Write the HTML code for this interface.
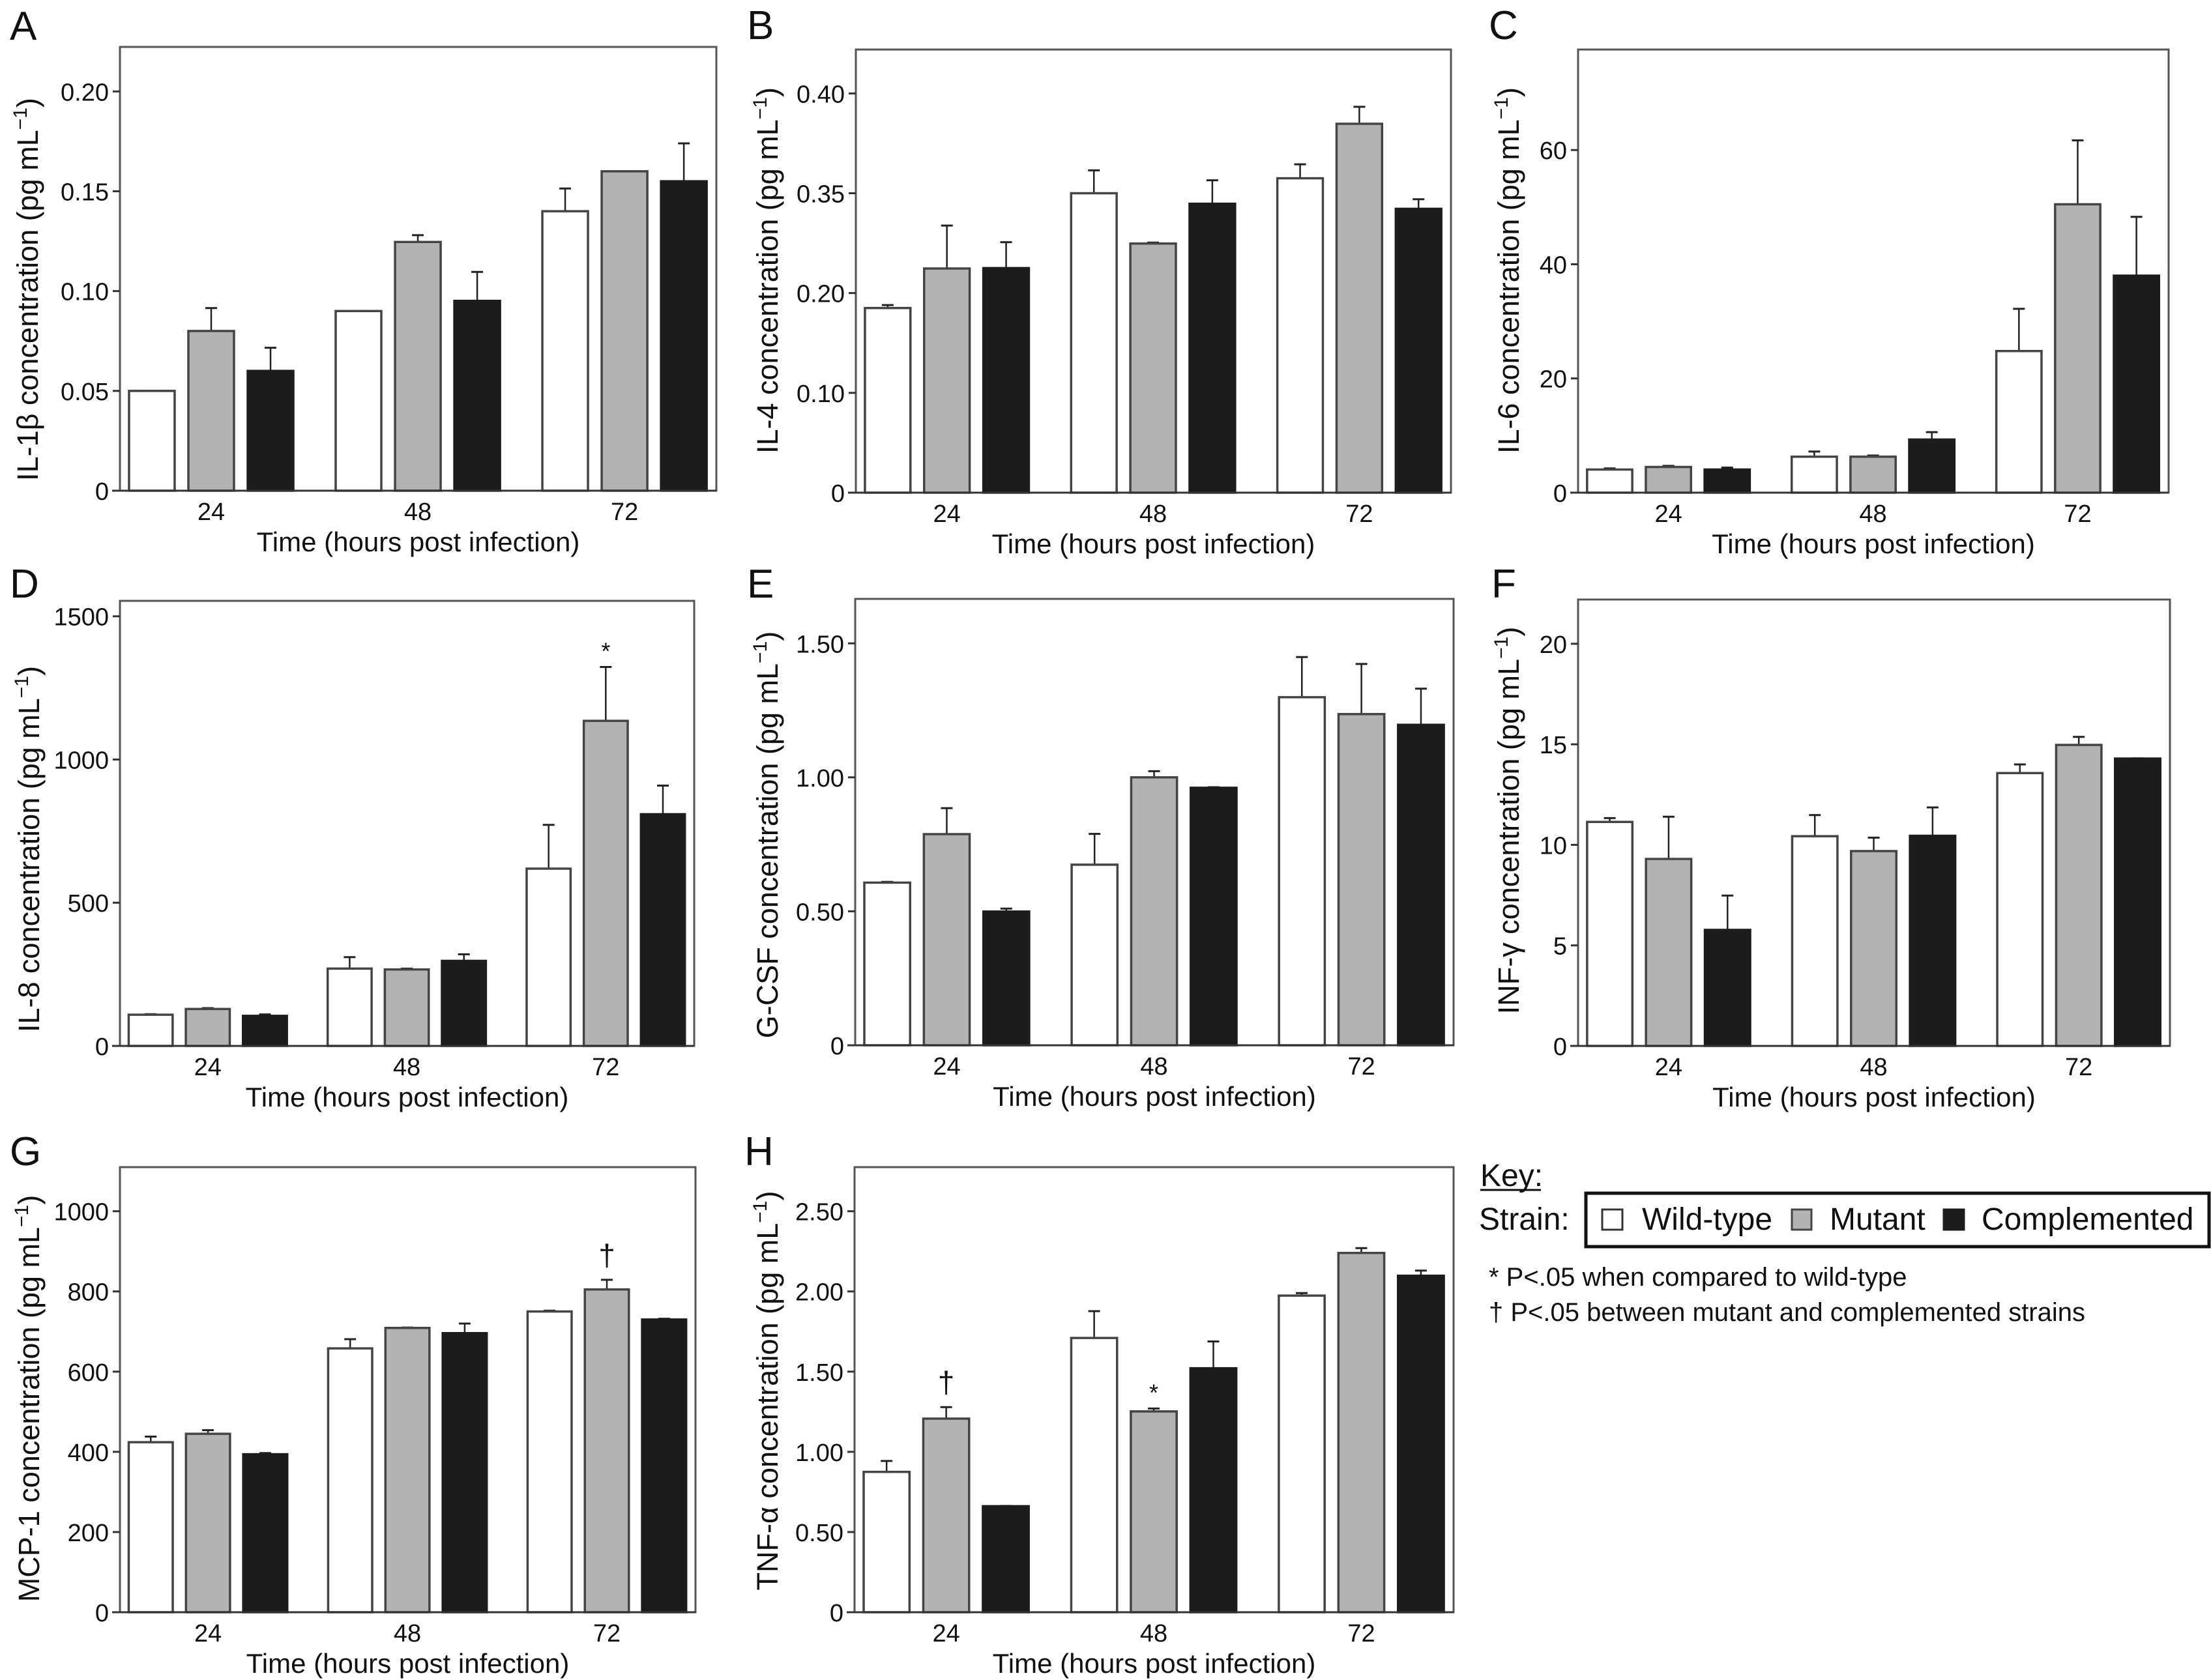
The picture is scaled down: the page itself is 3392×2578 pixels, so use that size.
<!DOCTYPE html>
<html><head><meta charset="utf-8"><title>Cytokine concentrations</title>
<style>html,body{margin:0;padding:0;background:#fff}svg{display:block}text{font-family:"Liberation Sans",Arial,sans-serif;fill:#111}</style>
</head><body>
<svg id="fig" xmlns="http://www.w3.org/2000/svg" width="3392" height="2578" viewBox="0 0 3392 2578">
<rect width="3392" height="2578" fill="#fff"/>
<g>
<text x="2271" y="1820" font-size="48">Key:</text>
<line x1="2271" y1="1826" x2="2364" y2="1826" stroke="#111" stroke-width="3"/>
<text x="2269" y="1887" font-size="48">Strain:</text>
<rect x="2433" y="1831" width="956" height="82" fill="none" stroke="#111" stroke-width="5"/>
<rect x="2458" y="1856" width="31" height="31" fill="#fff" stroke="#333" stroke-width="3"/>
<text x="2519" y="1887" font-size="48">Wild-type</text>
<rect x="2749" y="1856" width="30" height="31" fill="#b3b3b3" stroke="#444" stroke-width="3"/>
<text x="2807" y="1887" font-size="48">Mutant</text>
<rect x="2982" y="1856" width="31" height="31" fill="#1c1c1c" stroke="#1c1c1c" stroke-width="3"/>
<text x="3040" y="1887" font-size="48">Complemented</text>
<text x="2284" y="1973" font-size="40">* P&lt;.05 when compared to wild-type</text>
<text x="2284" y="2027" font-size="40">† P&lt;.05 between mutant and complemented strains</text>
</g>
</svg>
<script>
// shared categories
const groups = ["24","48","72"];
// Panel A IL-1beta
const aWt=[0.05,0.09,0.14], aWtE=[0,0,0.0114];
const aMut=[0.08,0.1246,0.16], aMutE=[0.0115,0.0034,0];
const aComp=[0.06,0.0951,0.155], aCompE=[0.0116,0.0145,0.019];
const aTicks=[0,0.05,0.10,0.15,0.20], aTickLabels=["0","0.05","0.10","0.15","0.20"];
// Panel B IL-4
const bWt=[0.185,0.30,0.315], bWtE=[0.003,0.023,0.014];
const bMut=[0.2246,0.2496,0.3696], bMutE=[0.043,0.001,0.017];
const bComp=[0.225,0.2895,0.2844], bCompE=[0.026,0.0235,0.0096];
const bTicks=[0,0.1,0.2,0.3,0.4], bTickLabels=["0","0.10","0.20","0.35","0.40"];
// Panel C IL-6
const cWt=[4.05,6.3,24.8], cWtE=[0.2,0.9,7.4];
const cMut=[4.5,6.3,50.5], cMutE=[0.2,0.2,11.2];
const cComp=[4.05,9.3,38], cCompE=[0.35,1.3,10.3];
const cTicks=[0,20,40,60], cTickLabels=["0","20","40","60"];
// Panel D IL-8
const dWt=[109,270,619], dWtE=[2,40,153];
const dMut=[129,267,1135], dMutE=[3,3,188];
const dComp=[105,297,809], dCompE=[5,23,100];
const dTicks=[0,500,1000,1500], dTickLabels=["0","500","1000","1500"];
// Panel E G-CSF
const eWt=[0.607,0.674,1.299], eWtE=[0.003,0.115,0.15];
const eMut=[0.788,1.0,1.236], eMutE=[0.097,0.023,0.187];
const eComp=[0.499,0.961,1.196], eCompE=[0.011,0.002,0.135];
const eTicks=[0,0.5,1.0,1.5], eTickLabels=["0","0.50","1.00","1.50"];
// Panel F INF-gamma
const fWt=[11.14,10.43,13.57], fWtE=[0.19,1.05,0.43];
const fMut=[9.3,9.69,14.97], fMutE=[2.1,0.67,0.4];
const fComp=[5.77,10.45,14.29], fCompE=[1.71,1.41,0.01];
const fTicks=[0,5,10,15,20], fTickLabels=["0","5","10","15","20"];
// Panel G MCP-1
const gWt=[424,658,750], gWtE=[14,23,2];
const gMut=[445,709,805], gMutE=[9,1,24];
const gComp=[394,696,730], gCompE=[3,24,2];
const gTicks=[0,200,400,600,800,1000], gTickLabels=["0","200","400","600","800","1000"];
// Panel H TNF-alpha
const hWt=[0.875,1.71,1.974], hWtE=[0.068,0.167,0.016];
const hMut=[1.207,1.252,2.24], hMutE=[0.072,0.018,0.03];
const hComp=[0.661,1.521,2.098], hCompE=[0.002,0.167,0.032];
const hTicks=[0,0.5,1.0,1.5,2.0,2.5], hTickLabels=["0","0.50","1.00","1.50","2.00","2.50"];

const NS="http://www.w3.org/2000/svg";
const svg=document.getElementById('fig');
function mk(tag,attrs,parent){const e=document.createElementNS(NS,tag);for(const k in attrs)e.setAttribute(k,attrs[k]);(parent||svg).appendChild(e);return e;}

const panels=[
 {id:'a',letter:'A',lx:15,ly:61,x0:184,x1:1099,y0:72,y1:753,ymax:0.2223,tx:42,tcy:444,title:'IL-1β concentration (pg mL',wt:aWt,wtE:aWtE,mut:aMut,mutE:aMutE,comp:aComp,compE:aCompE,ticks:aTicks,labels:aTickLabels,ann:[]},
 {id:'b',letter:'B',lx:1146,ly:60,x0:1313,x1:2226,y0:76,y1:756,ymax:0.444,tx:1177,tcy:415,title:'IL-4 concentration (pg mL',wt:bWt,wtE:bWtE,mut:bMut,mutE:bMutE,comp:bComp,compE:bCompE,ticks:bTicks,labels:bTickLabels,ann:[]},
 {id:'c',letter:'C',lx:2284,ly:60,x0:2421,x1:3327,y0:76,y1:756,ymax:77.6,tx:2314,tcy:415,title:'IL-6 concentration (pg mL',wt:cWt,wtE:cWtE,mut:cMut,mutE:cMutE,comp:cComp,compE:cCompE,ticks:cTicks,labels:cTickLabels,ann:[]},
 {id:'d',letter:'D',lx:15,ly:917,x0:184,x1:1065,y0:922,y1:1605,ymax:1554,tx:44,tcy:1303,title:'IL-8 concentration (pg mL',wt:dWt,wtE:dWtE,mut:dMut,mutE:dMutE,comp:dComp,compE:dCompE,ticks:dTicks,labels:dTickLabels,ann:[{s:1,g:2,t:'*'}]},
 {id:'e',letter:'E',lx:1146,ly:917,x0:1312,x1:2230,y0:919,y1:1604,ymax:1.666,tx:1177,tcy:1281,title:'G-CSF concentration (pg mL',wt:eWt,wtE:eWtE,mut:eMut,mutE:eMutE,comp:eComp,compE:eCompE,ticks:eTicks,labels:eTickLabels,ann:[]},
 {id:'f',letter:'F',lx:2288,ly:917,x0:2421,x1:3329,y0:920,y1:1605,ymax:22.2,tx:2314,tcy:1259,title:'INF-γ concentration (pg mL',wt:fWt,wtE:fWtE,mut:fMut,mutE:fMutE,comp:fComp,compE:fCompE,ticks:fTicks,labels:fTickLabels,ann:[]},
 {id:'g',letter:'G',lx:15,ly:1788,x0:184,x1:1067,y0:1791,y1:2474,ymax:1110,tx:44,tcy:2146,title:'MCP-1 concentration (pg mL',wt:gWt,wtE:gWtE,mut:gMut,mutE:gMutE,comp:gComp,compE:gCompE,ticks:gTicks,labels:gTickLabels,ann:[{s:1,g:2,t:'†'}]},
 {id:'h',letter:'H',lx:1142,ly:1788,x0:1311,x1:2230,y0:1791,y1:2474,ymax:2.775,tx:1177,tcy:2134,title:'TNF-α concentration (pg mL',wt:hWt,wtE:hWtE,mut:hMut,mutE:hMutE,comp:hComp,compE:hCompE,ticks:hTicks,labels:hTickLabels,ann:[{s:1,g:0,t:'†'},{s:1,g:1,t:'*'}]}
];
const fills=['#ffffff','#b3b3b3','#1c1c1c'];
const strokes=['#444','#444','#1c1c1c'];
const sNames=['wild-type','mutant','complemented'];

panels.forEach(p=>{
 const g=mk('g',{});
 
 
 const W=p.x1-p.x0;
 const yS=v=>p.y1-(v/p.ymax)*(p.y1-p.y0);
 const gx=i=>p.x0+W*(0.153+0.3465*i);
 const bw=W*0.0765, step=W*0.0995;
 const letter=mk('text',{x:p.lx,y:p.ly,'font-size':62},g);letter.textContent=p.letter;
 
 
 const frame=mk('rect',{x:p.x0,y:p.y0,width:W,height:p.y1-p.y0,fill:'none',stroke:'#555','stroke-width':3},g);
 
 
 p.ticks.forEach((t,i)=>{
  const y=yS(t);
  const tk=mk('line',{x1:p.x0-11,x2:p.x0,y1:y,y2:y,stroke:'#333','stroke-width':3},g);
  
  
  const tl=mk('text',{x:p.x0-17,y:y+14,'font-size':38,'text-anchor':'end'},g);tl.textContent=p.labels[i];
  
  
 });
 const series=[[p.wt,p.wtE],[p.mut,p.mutE],[p.comp,p.compE]];
 series.forEach((s,si)=>{
  s[0].forEach((v,gi)=>{
   const cx=gx(gi)+(si-1)*step;
   const top=yS(v);
   const et=yS(v+s[1][gi]);
   const el=mk('line',{x1:cx,x2:cx,y1:top,y2:et,stroke:'#222','stroke-width':2.5},g);
   
   
   const ec=mk('line',{x1:cx-9,x2:cx+9,y1:et,y2:et,stroke:'#222','stroke-width':3},g);
   
   
   const r=mk('rect',{x:cx-bw/2,y:top,width:bw,height:p.y1-top,fill:fills[si],stroke:strokes[si],'stroke-width':3.5},g);
   
   
  });
 });
 p.ann.forEach(a=>{
  const s=series[a.s];
  const cx=gx(a.g)+(a.s-1)*step;
  const et=yS(s[0][a.g]+s[1][a.g]);
  const at=mk('text',{x:cx,y:et-(a.t==='*'?12:22),'font-size':a.t==='*'?36:46,'text-anchor':'middle'},g);at.textContent=a.t;
  
  
 });
 const base=mk('line',{x1:p.x0-12,x2:p.x1,y1:p.y1,y2:p.y1,stroke:'#333','stroke-width':3},g);
 
 
 groups.forEach((lab,gi)=>{
  const xl=mk('text',{x:gx(gi),y:p.y1+45,'font-size':38,'text-anchor':'middle'},g);xl.textContent=lab;
  
  
 });
 const xt=mk('text',{x:(p.x0+p.x1)/2,y:p.y1+93,'font-size':42,'text-anchor':'middle'},g);xt.textContent='Time (hours post infection)';
 
 
 const yt=mk('text',{x:0,y:0,'font-size':45,'text-anchor':'middle',transform:`translate(${p.tx+16},${p.tcy}) rotate(-90)`},g);
 
 
 const t1=mk('tspan',{},yt);t1.textContent=p.title;
 const t2=mk('tspan',{'font-size':30,dy:-17},yt);t2.textContent='−1';
 const t3=mk('tspan',{dy:17},yt);t3.textContent=')';
});
</script>
</body></html>
